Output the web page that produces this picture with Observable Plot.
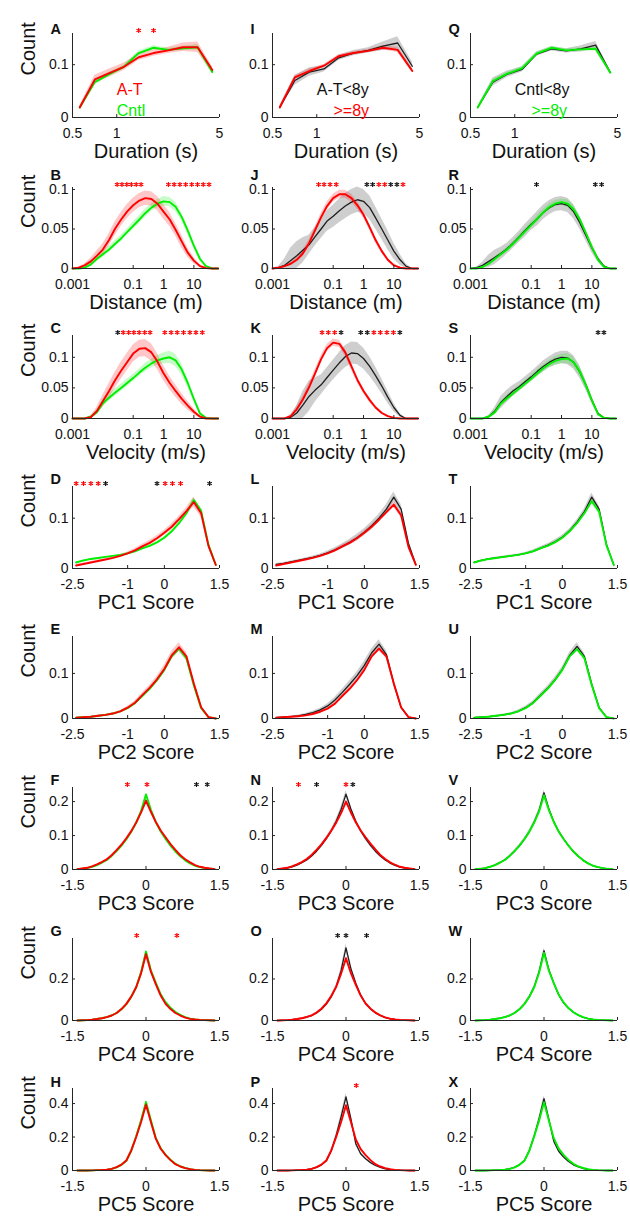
<!DOCTYPE html>
<html><head><meta charset="utf-8">
<script src="https://cdn.jsdelivr.net/npm/d3@7"></script>
<script src="https://cdn.jsdelivr.net/npm/@observablehq/plot@0.6"></script>
<style>
body{margin:0;background:#fff;}
#fig{position:relative;width:630px;height:1220px;overflow:hidden;background:#fff;}
#fig svg{position:absolute;}
</style></head><body><div id="fig"></div><script>
// ---------- x grids (bin centres) ----------
const durX = [0.56, 0.71, 0.89, 1.12, 1.41, 1.78, 2.24, 2.82, 3.55, 4.47];
const logX = [0.001, 0.0016, 0.0025, 0.004, 0.0063, 0.01, 0.016, 0.025, 0.04, 0.063, 0.1, 0.16, 0.25, 0.4, 0.63, 1, 1.6, 2.5, 4, 6.3, 10, 16, 25, 40, 63];
const pcWideX = [-2.4, -2.2, -2.0, -1.8, -1.6, -1.4, -1.2, -1.0, -0.8, -0.6, -0.4, -0.2, 0, 0.2, 0.4, 0.6, 0.8, 1.0, 1.2, 1.4];
const pcX = [-1.4,-1.3,-1.2,-1.1,-1.0,-0.9,-0.8,-0.7,-0.6,-0.5,-0.4,-0.3,-0.2,-0.1,0,0.1,0.2,0.3,0.4,0.5,0.6,0.7,0.8,0.9,1.0,1.1,1.2,1.3,1.4];

// ---------- tick labels ----------
const durTicks = [0.5, 1, 5];
const logTicks = [0.001, 0.1, 1, 10];
const pcWideTicks = [-2.5, -1, 0, 1.5];
const pcTicks = [-1.5, 0, 1.5];
const xLabels = ["Duration (s)", "Distance (m)", "Velocity (m/s)", "PC1 Score", "PC2 Score", "PC3 Score", "PC4 Score", "PC5 Score"];
const letters = [["A","B","C","D","E","F","G","H"],["I","J","K","L","M","N","O","P"],["Q","R","S","T","U","V","W","X"]];

// ---------- Row 1: Duration ----------
const A_red = [0.019, 0.072, 0.084, 0.096, 0.114, 0.122, 0.127, 0.133, 0.133, 0.090];
const A_red_s = [0.003, 0.008, 0.008, 0.007, 0.006, 0.006, 0.006, 0.008, 0.010, 0.006];
const A_green = [0.019, 0.067, 0.082, 0.096, 0.122, 0.132, 0.128, 0.131, 0.133, 0.086];
const A_green_s = [0.002, 0.004, 0.004, 0.003, 0.004, 0.004, 0.003, 0.004, 0.005, 0.004];
const I_black = [0.019, 0.070, 0.086, 0.092, 0.113, 0.122, 0.127, 0.135, 0.141, 0.097];
const I_black_s = [0.003, 0.009, 0.008, 0.006, 0.005, 0.005, 0.005, 0.008, 0.012, 0.008];
const I_red = [0.019, 0.076, 0.088, 0.098, 0.116, 0.122, 0.126, 0.132, 0.128, 0.088];
const I_red_s = [0.002, 0.004, 0.004, 0.003, 0.003, 0.003, 0.003, 0.004, 0.005, 0.004];
const Q_black = [0.019, 0.067, 0.082, 0.091, 0.120, 0.130, 0.126, 0.130, 0.137, 0.085];
const Q_black_s = [0.002, 0.008, 0.006, 0.005, 0.004, 0.004, 0.004, 0.006, 0.007, 0.004];
const Q_green = [0.019, 0.069, 0.083, 0.093, 0.121, 0.132, 0.127, 0.129, 0.130, 0.085];
const Q_green_s = [0.002, 0.003, 0.003, 0.003, 0.003, 0.003, 0.003, 0.003, 0.004, 0.003];

// ---------- Row 2: Distance ----------
const B_red = [0, 0.001, 0.004, 0.009, 0.016, 0.024, 0.036, 0.050, 0.062, 0.072, 0.080, 0.086, 0.089, 0.088, 0.082, 0.072, 0.062, 0.049, 0.034, 0.020, 0.010, 0.003, 0.0005, 0, 0];
const B_red_s = [0, 0.001, 0.002, 0.004, 0.006, 0.007, 0.008, 0.009, 0.009, 0.009, 0.009, 0.009, 0.009, 0.009, 0.009, 0.009, 0.009, 0.008, 0.008, 0.006, 0.004, 0.002, 0.001, 0, 0];
const B_green = [0, 0, 0.001, 0.005, 0.012, 0.018, 0.024, 0.031, 0.038, 0.046, 0.054, 0.062, 0.070, 0.077, 0.082, 0.085, 0.084, 0.078, 0.065, 0.048, 0.029, 0.012, 0.003, 0, 0];
const B_green_s = [0, 0, 0.001, 0.002, 0.003, 0.004, 0.004, 0.004, 0.004, 0.004, 0.005, 0.005, 0.005, 0.005, 0.005, 0.006, 0.006, 0.006, 0.005, 0.005, 0.004, 0.003, 0.001, 0, 0];
const J_black = [0, 0.001, 0.004, 0.010, 0.016, 0.023, 0.030, 0.040, 0.050, 0.060, 0.066, 0.073, 0.079, 0.084, 0.087, 0.085, 0.077, 0.064, 0.050, 0.036, 0.022, 0.011, 0.003, 0, 0];
const J_black_s = [0, 0.002, 0.008, 0.016, 0.018, 0.016, 0.012, 0.012, 0.012, 0.013, 0.014, 0.015, 0.016, 0.016, 0.016, 0.015, 0.015, 0.014, 0.013, 0.012, 0.010, 0.007, 0.003, 0, 0];
const J_red = [0, 0.001, 0.003, 0.006, 0.011, 0.019, 0.032, 0.048, 0.065, 0.079, 0.089, 0.094, 0.094, 0.089, 0.080, 0.068, 0.052, 0.036, 0.022, 0.011, 0.004, 0.001, 0, 0, 0];
const J_red_s = [0, 0.001, 0.001, 0.002, 0.003, 0.004, 0.004, 0.004, 0.005, 0.005, 0.005, 0.005, 0.005, 0.005, 0.005, 0.004, 0.004, 0.004, 0.003, 0.002, 0.002, 0.001, 0, 0, 0];
const R_black = [0, 0.001, 0.004, 0.009, 0.014, 0.019, 0.025, 0.032, 0.040, 0.048, 0.056, 0.063, 0.071, 0.077, 0.081, 0.082, 0.080, 0.072, 0.058, 0.042, 0.026, 0.012, 0.003, 0, 0];
const R_black_s = [0, 0.001, 0.004, 0.008, 0.009, 0.008, 0.007, 0.007, 0.007, 0.008, 0.008, 0.009, 0.009, 0.009, 0.009, 0.009, 0.009, 0.009, 0.008, 0.007, 0.006, 0.004, 0.002, 0, 0];
const R_green = [0, 0, 0.002, 0.006, 0.012, 0.018, 0.024, 0.031, 0.039, 0.047, 0.055, 0.063, 0.071, 0.078, 0.082, 0.084, 0.082, 0.075, 0.062, 0.045, 0.027, 0.011, 0.002, 0, 0];
const R_green_s = [0, 0, 0.001, 0.002, 0.003, 0.003, 0.003, 0.003, 0.004, 0.004, 0.004, 0.004, 0.004, 0.004, 0.004, 0.004, 0.005, 0.005, 0.005, 0.004, 0.003, 0.002, 0.001, 0, 0];

// ---------- Row 3: Velocity ----------
const C_red = [0, 0, 0, 0.002, 0.012, 0.028, 0.045, 0.062, 0.078, 0.092, 0.106, 0.114, 0.115, 0.108, 0.093, 0.074, 0.058, 0.045, 0.032, 0.021, 0.011, 0.003, 0, 0, 0];
const C_red_s = [0, 0, 0, 0.002, 0.006, 0.010, 0.012, 0.013, 0.014, 0.014, 0.014, 0.014, 0.014, 0.014, 0.013, 0.012, 0.011, 0.010, 0.009, 0.007, 0.005, 0.002, 0, 0, 0];
const C_green = [0, 0, 0, 0.003, 0.010, 0.025, 0.034, 0.042, 0.050, 0.058, 0.066, 0.075, 0.083, 0.090, 0.095, 0.098, 0.100, 0.095, 0.080, 0.058, 0.032, 0.008, 0.001, 0, 0];
const C_green_s = [0, 0, 0, 0.002, 0.004, 0.006, 0.006, 0.006, 0.006, 0.006, 0.006, 0.006, 0.007, 0.007, 0.008, 0.009, 0.010, 0.010, 0.009, 0.007, 0.005, 0.003, 0.001, 0, 0];
const K_black = [0, 0, 0, 0.002, 0.009, 0.022, 0.036, 0.046, 0.055, 0.067, 0.079, 0.091, 0.101, 0.107, 0.106, 0.098, 0.085, 0.070, 0.053, 0.035, 0.018, 0.005, 0, 0, 0];
const K_black_s = [0, 0, 0, 0.003, 0.012, 0.022, 0.025, 0.020, 0.016, 0.016, 0.016, 0.017, 0.018, 0.018, 0.018, 0.017, 0.016, 0.014, 0.012, 0.010, 0.007, 0.003, 0, 0, 0];
const K_red = [0, 0, 0, 0.004, 0.015, 0.031, 0.051, 0.073, 0.097, 0.115, 0.124, 0.122, 0.108, 0.085, 0.063, 0.045, 0.030, 0.018, 0.009, 0.004, 0.001, 0, 0, 0, 0];
const K_red_s = [0, 0, 0, 0.002, 0.004, 0.005, 0.006, 0.006, 0.006, 0.006, 0.006, 0.006, 0.006, 0.006, 0.005, 0.004, 0.004, 0.003, 0.002, 0.001, 0.001, 0, 0, 0, 0];
const S_black = [0, 0, 0, 0.003, 0.012, 0.026, 0.036, 0.045, 0.052, 0.060, 0.068, 0.077, 0.085, 0.092, 0.097, 0.100, 0.099, 0.092, 0.076, 0.055, 0.030, 0.008, 0.001, 0, 0];
const S_black_s = [0, 0, 0, 0.002, 0.006, 0.010, 0.010, 0.009, 0.008, 0.008, 0.008, 0.008, 0.009, 0.009, 0.010, 0.010, 0.011, 0.011, 0.010, 0.008, 0.006, 0.003, 0.001, 0, 0];
const S_green = [0, 0, 0, 0.003, 0.010, 0.024, 0.033, 0.041, 0.049, 0.057, 0.065, 0.074, 0.082, 0.089, 0.094, 0.097, 0.098, 0.092, 0.077, 0.055, 0.030, 0.007, 0.001, 0, 0];
const S_green_s = [0, 0, 0, 0.002, 0.004, 0.005, 0.005, 0.005, 0.005, 0.005, 0.005, 0.006, 0.006, 0.006, 0.007, 0.008, 0.008, 0.008, 0.008, 0.006, 0.004, 0.002, 0.001, 0, 0];

// ---------- Row 4: PC1 ----------
const D_red = [0.006, 0.009, 0.012, 0.015, 0.018, 0.021, 0.025, 0.030, 0.036, 0.044, 0.051, 0.060, 0.071, 0.083, 0.098, 0.114, 0.132, 0.110, 0.045, 0.007];
const D_red_s = [0.002, 0.002, 0.002, 0.002, 0.002, 0.003, 0.003, 0.003, 0.004, 0.004, 0.005, 0.005, 0.005, 0.006, 0.006, 0.007, 0.010, 0.008, 0.004, 0.002];
const D_green = [0.012, 0.016, 0.019, 0.021, 0.023, 0.025, 0.027, 0.030, 0.034, 0.040, 0.045, 0.052, 0.061, 0.074, 0.090, 0.110, 0.136, 0.115, 0.047, 0.007];
const D_green_s = [0.001, 0.001, 0.001, 0.001, 0.001, 0.001, 0.001, 0.002, 0.002, 0.002, 0.002, 0.002, 0.003, 0.003, 0.003, 0.004, 0.005, 0.004, 0.003, 0.001];
const L_black = [0.008, 0.010, 0.013, 0.016, 0.019, 0.022, 0.026, 0.031, 0.037, 0.044, 0.052, 0.061, 0.072, 0.085, 0.100, 0.118, 0.142, 0.118, 0.050, 0.008];
const L_black_s = [0.002, 0.002, 0.002, 0.002, 0.002, 0.003, 0.003, 0.004, 0.004, 0.005, 0.006, 0.007, 0.007, 0.008, 0.008, 0.009, 0.010, 0.009, 0.006, 0.002];
const L_red = [0.006, 0.009, 0.012, 0.015, 0.018, 0.021, 0.025, 0.030, 0.036, 0.044, 0.051, 0.060, 0.071, 0.083, 0.097, 0.112, 0.127, 0.106, 0.043, 0.007];
const L_red_s = [0.001, 0.001, 0.001, 0.001, 0.002, 0.002, 0.002, 0.002, 0.003, 0.003, 0.003, 0.003, 0.004, 0.004, 0.004, 0.005, 0.006, 0.005, 0.003, 0.001];
const T_black = [0.012, 0.016, 0.019, 0.021, 0.023, 0.025, 0.027, 0.030, 0.034, 0.040, 0.046, 0.053, 0.062, 0.075, 0.092, 0.113, 0.142, 0.118, 0.048, 0.007];
const T_black_s = [0.001, 0.001, 0.001, 0.002, 0.002, 0.002, 0.002, 0.002, 0.003, 0.003, 0.003, 0.004, 0.004, 0.004, 0.005, 0.006, 0.008, 0.006, 0.004, 0.001];
const T_green = [0.012, 0.016, 0.019, 0.021, 0.023, 0.025, 0.027, 0.030, 0.034, 0.040, 0.045, 0.052, 0.061, 0.074, 0.090, 0.110, 0.134, 0.113, 0.046, 0.007];
const T_green_s = [0.001, 0.001, 0.001, 0.001, 0.001, 0.001, 0.001, 0.002, 0.002, 0.002, 0.002, 0.003, 0.003, 0.003, 0.004, 0.004, 0.006, 0.005, 0.003, 0.001];

// ---------- Row 5: PC2 ----------
const E_red = [0.002, 0.003, 0.004, 0.006, 0.008, 0.011, 0.016, 0.024, 0.035, 0.052, 0.068, 0.087, 0.110, 0.140, 0.158, 0.138, 0.078, 0.025, 0.003, 0];
const E_red_s = [0.001, 0.001, 0.001, 0.001, 0.001, 0.002, 0.002, 0.003, 0.004, 0.005, 0.006, 0.007, 0.008, 0.009, 0.010, 0.009, 0.006, 0.003, 0.001, 0];
const E_green = [0.002, 0.003, 0.004, 0.006, 0.008, 0.011, 0.016, 0.023, 0.034, 0.050, 0.066, 0.085, 0.108, 0.138, 0.155, 0.134, 0.074, 0.023, 0.003, 0];
const E_green_s = [0.0005, 0.001, 0.001, 0.001, 0.001, 0.001, 0.001, 0.002, 0.002, 0.003, 0.003, 0.004, 0.004, 0.005, 0.005, 0.005, 0.004, 0.002, 0.001, 0];
const M_black = [0.002, 0.003, 0.004, 0.006, 0.009, 0.013, 0.019, 0.028, 0.041, 0.058, 0.076, 0.095, 0.118, 0.146, 0.165, 0.142, 0.078, 0.024, 0.003, 0];
const M_black_s = [0.001, 0.001, 0.001, 0.002, 0.002, 0.003, 0.004, 0.005, 0.006, 0.007, 0.008, 0.008, 0.009, 0.009, 0.010, 0.009, 0.006, 0.003, 0.001, 0];
const M_red = [0.002, 0.003, 0.004, 0.005, 0.007, 0.010, 0.015, 0.022, 0.033, 0.050, 0.066, 0.085, 0.108, 0.138, 0.155, 0.138, 0.078, 0.025, 0.003, 0];
const M_red_s = [0.0005, 0.001, 0.001, 0.001, 0.001, 0.001, 0.002, 0.002, 0.003, 0.003, 0.004, 0.004, 0.005, 0.005, 0.006, 0.005, 0.004, 0.002, 0.001, 0];
const U_black = [0.002, 0.003, 0.004, 0.006, 0.008, 0.011, 0.016, 0.024, 0.035, 0.051, 0.067, 0.086, 0.109, 0.140, 0.160, 0.138, 0.076, 0.024, 0.003, 0];
const U_black_s = [0.001, 0.001, 0.001, 0.001, 0.002, 0.002, 0.003, 0.003, 0.004, 0.005, 0.005, 0.006, 0.006, 0.007, 0.008, 0.007, 0.005, 0.003, 0.001, 0];
const U_green = [0.002, 0.003, 0.004, 0.006, 0.008, 0.011, 0.016, 0.023, 0.034, 0.050, 0.066, 0.085, 0.108, 0.138, 0.154, 0.134, 0.074, 0.023, 0.003, 0];
const U_green_s = [0.0005, 0.001, 0.001, 0.001, 0.001, 0.001, 0.001, 0.002, 0.002, 0.002, 0.003, 0.003, 0.004, 0.004, 0.005, 0.004, 0.003, 0.002, 0.001, 0];

// ---------- Row 6: PC3 ----------
const F_red = [0.001, 0.003, 0.005, 0.009, 0.015, 0.022, 0.030, 0.042, 0.057, 0.073, 0.092, 0.113, 0.138, 0.168, 0.203, 0.170, 0.140, 0.115, 0.095, 0.075, 0.058, 0.042, 0.030, 0.021, 0.013, 0.008, 0.005, 0.003, 0.001];
const F_red_s = [0, 0.001, 0.001, 0.001, 0.001, 0.002, 0.002, 0.002, 0.003, 0.003, 0.003, 0.004, 0.004, 0.005, 0.007, 0.005, 0.004, 0.004, 0.003, 0.003, 0.003, 0.002, 0.002, 0.002, 0.001, 0.001, 0.001, 0.001, 0];
const F_green = [0.001, 0.002, 0.004, 0.008, 0.013, 0.020, 0.028, 0.040, 0.054, 0.070, 0.089, 0.111, 0.138, 0.172, 0.221, 0.176, 0.140, 0.112, 0.090, 0.070, 0.053, 0.039, 0.027, 0.018, 0.011, 0.007, 0.004, 0.002, 0.001];
const F_green_s = [0, 0.001, 0.001, 0.001, 0.001, 0.001, 0.001, 0.002, 0.002, 0.002, 0.002, 0.003, 0.003, 0.004, 0.005, 0.004, 0.003, 0.003, 0.002, 0.002, 0.002, 0.002, 0.001, 0.001, 0.001, 0.001, 0.001, 0, 0];
const N_black = [0.001, 0.002, 0.004, 0.008, 0.013, 0.020, 0.028, 0.040, 0.054, 0.071, 0.091, 0.114, 0.142, 0.177, 0.222, 0.178, 0.142, 0.114, 0.091, 0.071, 0.054, 0.040, 0.028, 0.019, 0.012, 0.007, 0.004, 0.002, 0.001];
const N_black_s = [0, 0.001, 0.001, 0.002, 0.002, 0.003, 0.003, 0.004, 0.004, 0.005, 0.005, 0.006, 0.007, 0.008, 0.010, 0.008, 0.007, 0.006, 0.005, 0.005, 0.004, 0.004, 0.003, 0.003, 0.002, 0.002, 0.001, 0.001, 0];
const N_red = [0.001, 0.003, 0.005, 0.009, 0.015, 0.022, 0.031, 0.043, 0.058, 0.074, 0.093, 0.114, 0.138, 0.166, 0.200, 0.168, 0.139, 0.115, 0.095, 0.076, 0.059, 0.043, 0.031, 0.021, 0.014, 0.008, 0.005, 0.003, 0.001];
const N_red_s = [0, 0.001, 0.001, 0.001, 0.001, 0.001, 0.002, 0.002, 0.002, 0.002, 0.003, 0.003, 0.003, 0.004, 0.005, 0.004, 0.003, 0.003, 0.003, 0.002, 0.002, 0.002, 0.002, 0.001, 0.001, 0.001, 0.001, 0, 0];
const V_black = [0.001, 0.002, 0.004, 0.008, 0.013, 0.020, 0.028, 0.040, 0.054, 0.070, 0.089, 0.111, 0.139, 0.174, 0.226, 0.178, 0.141, 0.112, 0.090, 0.070, 0.053, 0.039, 0.027, 0.018, 0.011, 0.007, 0.004, 0.002, 0.001];
const V_black_s = [0, 0.001, 0.001, 0.001, 0.002, 0.002, 0.003, 0.003, 0.004, 0.004, 0.005, 0.005, 0.006, 0.006, 0.008, 0.006, 0.005, 0.005, 0.004, 0.004, 0.003, 0.003, 0.003, 0.002, 0.002, 0.001, 0.001, 0.001, 0];
const V_green = [0.001, 0.002, 0.004, 0.008, 0.013, 0.020, 0.028, 0.040, 0.054, 0.070, 0.089, 0.111, 0.138, 0.171, 0.219, 0.175, 0.140, 0.112, 0.090, 0.070, 0.053, 0.039, 0.027, 0.018, 0.011, 0.007, 0.004, 0.002, 0.001];
const V_green_s = [0, 0.001, 0.001, 0.001, 0.001, 0.001, 0.001, 0.002, 0.002, 0.002, 0.002, 0.003, 0.003, 0.003, 0.004, 0.003, 0.003, 0.003, 0.002, 0.002, 0.002, 0.001, 0.001, 0.001, 0.001, 0.001, 0, 0, 0];

// ---------- Row 7: PC4 ----------
const G_red = [0, 0.001, 0.002, 0.004, 0.007, 0.011, 0.016, 0.024, 0.036, 0.055, 0.080, 0.115, 0.160, 0.228, 0.320, 0.235, 0.175, 0.120, 0.080, 0.055, 0.036, 0.024, 0.014, 0.008, 0.005, 0.003, 0.002, 0.001, 0];
const G_red_s = [0, 0, 0.001, 0.001, 0.001, 0.001, 0.002, 0.002, 0.003, 0.004, 0.005, 0.006, 0.008, 0.010, 0.014, 0.010, 0.008, 0.006, 0.005, 0.004, 0.003, 0.002, 0.002, 0.001, 0.001, 0.001, 0, 0, 0];
const G_green = [0, 0.001, 0.002, 0.004, 0.007, 0.011, 0.016, 0.024, 0.036, 0.054, 0.079, 0.114, 0.160, 0.232, 0.332, 0.242, 0.182, 0.126, 0.088, 0.061, 0.041, 0.027, 0.016, 0.009, 0.005, 0.003, 0.002, 0.001, 0];
const G_green_s = [0, 0, 0, 0.001, 0.001, 0.001, 0.001, 0.002, 0.002, 0.002, 0.003, 0.004, 0.005, 0.006, 0.008, 0.006, 0.005, 0.004, 0.003, 0.003, 0.002, 0.002, 0.001, 0.001, 0.001, 0, 0, 0, 0];
const O_black = [0, 0.001, 0.002, 0.004, 0.007, 0.011, 0.016, 0.024, 0.036, 0.054, 0.079, 0.114, 0.163, 0.240, 0.350, 0.250, 0.180, 0.122, 0.082, 0.056, 0.037, 0.024, 0.014, 0.008, 0.005, 0.003, 0.002, 0.001, 0];
const O_black_s = [0, 0, 0.001, 0.001, 0.001, 0.002, 0.002, 0.003, 0.004, 0.005, 0.006, 0.008, 0.010, 0.013, 0.018, 0.013, 0.010, 0.008, 0.006, 0.005, 0.004, 0.003, 0.002, 0.001, 0.001, 0.001, 0, 0, 0];
const O_red = [0, 0.001, 0.002, 0.004, 0.007, 0.011, 0.017, 0.025, 0.038, 0.057, 0.083, 0.118, 0.162, 0.225, 0.300, 0.228, 0.172, 0.120, 0.082, 0.057, 0.038, 0.025, 0.015, 0.009, 0.005, 0.003, 0.002, 0.001, 0];
const O_red_s = [0, 0, 0, 0.001, 0.001, 0.001, 0.001, 0.002, 0.002, 0.003, 0.003, 0.004, 0.005, 0.006, 0.008, 0.006, 0.005, 0.004, 0.003, 0.003, 0.002, 0.002, 0.001, 0.001, 0.001, 0, 0, 0, 0];
const W_black = [0, 0.001, 0.002, 0.004, 0.007, 0.011, 0.016, 0.024, 0.036, 0.054, 0.079, 0.114, 0.161, 0.234, 0.336, 0.244, 0.180, 0.124, 0.085, 0.059, 0.040, 0.026, 0.015, 0.009, 0.005, 0.003, 0.002, 0.001, 0];
const W_black_s = [0, 0, 0, 0.001, 0.001, 0.001, 0.002, 0.002, 0.003, 0.004, 0.005, 0.006, 0.008, 0.010, 0.013, 0.010, 0.008, 0.006, 0.005, 0.004, 0.003, 0.002, 0.002, 0.001, 0.001, 0, 0, 0, 0];
const W_green = [0, 0.001, 0.002, 0.004, 0.007, 0.011, 0.016, 0.024, 0.036, 0.054, 0.079, 0.114, 0.160, 0.230, 0.326, 0.240, 0.180, 0.125, 0.087, 0.060, 0.040, 0.026, 0.016, 0.009, 0.005, 0.003, 0.002, 0.001, 0];
const W_green_s = [0, 0, 0, 0, 0.001, 0.001, 0.001, 0.001, 0.002, 0.002, 0.003, 0.003, 0.004, 0.005, 0.006, 0.005, 0.004, 0.003, 0.003, 0.002, 0.002, 0.001, 0.001, 0.001, 0, 0, 0, 0, 0];

// ---------- Row 8: PC5 ----------
const H_red = [0, 0, 0, 0.001, 0.002, 0.003, 0.005, 0.010, 0.020, 0.035, 0.060, 0.120, 0.200, 0.290, 0.395, 0.290, 0.190, 0.130, 0.092, 0.062, 0.038, 0.024, 0.014, 0.008, 0.004, 0.002, 0.001, 0, 0];
const H_red_s = [0, 0, 0, 0, 0.001, 0.001, 0.001, 0.002, 0.003, 0.004, 0.006, 0.008, 0.010, 0.013, 0.016, 0.013, 0.010, 0.008, 0.006, 0.004, 0.003, 0.002, 0.001, 0.001, 0, 0, 0, 0, 0];
const H_green = [0, 0, 0, 0.001, 0.002, 0.003, 0.005, 0.010, 0.019, 0.034, 0.058, 0.118, 0.205, 0.300, 0.410, 0.300, 0.195, 0.132, 0.094, 0.064, 0.040, 0.025, 0.015, 0.008, 0.004, 0.002, 0.001, 0, 0];
const H_green_s = [0, 0, 0, 0, 0, 0.001, 0.001, 0.001, 0.002, 0.002, 0.003, 0.004, 0.006, 0.007, 0.009, 0.007, 0.005, 0.004, 0.003, 0.002, 0.002, 0.001, 0.001, 0, 0, 0, 0, 0, 0];
const P_black = [0, 0, 0, 0.001, 0.002, 0.003, 0.005, 0.010, 0.019, 0.034, 0.058, 0.118, 0.210, 0.320, 0.440, 0.310, 0.160, 0.100, 0.070, 0.047, 0.030, 0.018, 0.010, 0.006, 0.003, 0.002, 0.001, 0, 0];
const P_black_s = [0, 0, 0, 0, 0.001, 0.001, 0.001, 0.002, 0.003, 0.004, 0.006, 0.009, 0.013, 0.017, 0.022, 0.016, 0.011, 0.008, 0.006, 0.004, 0.003, 0.002, 0.001, 0.001, 0, 0, 0, 0, 0];
const P_red = [0, 0, 0, 0.001, 0.002, 0.003, 0.005, 0.010, 0.020, 0.035, 0.060, 0.120, 0.200, 0.290, 0.390, 0.290, 0.185, 0.128, 0.092, 0.062, 0.038, 0.024, 0.014, 0.008, 0.004, 0.002, 0.001, 0, 0];
const P_red_s = [0, 0, 0, 0, 0, 0.001, 0.001, 0.001, 0.002, 0.002, 0.003, 0.004, 0.006, 0.007, 0.009, 0.007, 0.006, 0.004, 0.003, 0.002, 0.002, 0.001, 0.001, 0, 0, 0, 0, 0, 0];
const X_black = [0, 0, 0, 0.001, 0.002, 0.003, 0.005, 0.010, 0.019, 0.034, 0.058, 0.118, 0.205, 0.310, 0.430, 0.305, 0.175, 0.115, 0.080, 0.054, 0.034, 0.021, 0.012, 0.007, 0.004, 0.002, 0.001, 0, 0];
const X_black_s = [0, 0, 0, 0, 0.001, 0.001, 0.001, 0.002, 0.002, 0.003, 0.005, 0.007, 0.010, 0.013, 0.016, 0.012, 0.009, 0.007, 0.005, 0.003, 0.002, 0.002, 0.001, 0.001, 0, 0, 0, 0, 0];
const X_green = [0, 0, 0, 0.001, 0.002, 0.003, 0.005, 0.010, 0.019, 0.034, 0.058, 0.118, 0.204, 0.298, 0.408, 0.298, 0.193, 0.131, 0.093, 0.063, 0.040, 0.025, 0.015, 0.008, 0.004, 0.002, 0.001, 0, 0];
const X_green_s = [0, 0, 0, 0, 0, 0.001, 0.001, 0.001, 0.001, 0.002, 0.002, 0.003, 0.004, 0.005, 0.006, 0.005, 0.004, 0.003, 0.002, 0.002, 0.001, 0.001, 0.001, 0, 0, 0, 0, 0, 0];

// ---------- significance stars (x positions) ----------
const stars = {
  A: {r: [1.41, 1.78], k: []},
  B: {r: [0.0295, 0.0427, 0.0617, 0.087, 0.126, 0.182, 1.45, 2.24, 3.47, 5.37, 8.5, 13.2, 20.4, 31.6], k: []},
  C: {r: [0.047, 0.071, 0.105, 0.158, 0.24, 0.36, 1.1, 1.78, 2.82, 4.57, 7.4, 11.7, 19], k: [0.031]},
  D: {r: [-2.4, -2.2, -2.0, -1.8, 0.02, 0.22, 0.44], k: [-1.6, -0.2, 1.23]},
  F: {r: [-0.38, 0.02], k: [1.03, 1.25]},
  G: {r: [-0.19, 0.63], k: []},
  J: {r: [0.033, 0.05, 0.079, 0.126, 3.2, 5.0, 20], k: [1.29, 2.0, 7.9, 12.6]},
  K: {r: [0.043, 0.069, 0.112, 2.19, 3.59, 5.9, 9.7], k: [0.182, 0.81, 1.33, 15.8]},
  N: {r: [-0.97, 0.0], k: [-0.6, 0.14]},
  O: {r: [], k: [-0.17, 0.0, 0.42]},
  P: {r: [0.21], k: []},
  R: {r: [], k: [0.15, 13, 21]},
  S: {r: [], k: [16, 25]}
};

// ---------- legends ----------
const legends = {
  A: [{x: 1.0, y: 0.052, t: "A-T", c: "red"}, {x: 1.0, y: 0.012, t: "Cntl", c: "green"}],
  I: [{x: 1.0, y: 0.052, t: "A-T<8y", c: "black"}, {x: 1.3, y: 0.012, t: ">=8y", c: "red"}],
  Q: [{x: 1.0, y: 0.052, t: "Cntl<8y", c: "black"}, {x: 1.3, y: 0.012, t: ">=8y", c: "green"}]
};

// ---------- layout / styles ----------
const COL = {red: "#ff0000", green: "#00ee00", black: "#1e1e1e"};
const AX = "#262626";
const FONT = "'Liberation Sans', Arial, Helvetica, sans-serif";
const colX0 = [72, 272, 470], PW = 147;
const rowTop = [33, 187, 335, 486, 636, 787, 938, 1088];
const rowBot = [117, 268, 418, 568, 718, 869, 1020, 1170];
const letterDy = [-10, -17.5, -13, -13, -13, -13, -13, -11.5];
const MT = 30, MB = 60, ML = 72, MR = 14;

const rows = [
  {xs: durX, type: "log", xd: [0.5, 5], xt: durTicks, yd: [0, 0.159], yt: [0, 0.1]},
  {xs: logX, type: "log", xd: [0.001, 70], xt: logTicks, yd: [0, 0.1025], yt: [0, 0.05, 0.1]},
  {xs: logX, type: "log", xd: [0.001, 70], xt: logTicks, yd: [0, 0.1356], yt: [0, 0.05, 0.1]},
  {xs: pcWideX, type: "linear", xd: [-2.5, 1.5], xt: pcWideTicks, yd: [0, 0.163], yt: [0, 0.1]},
  {xs: pcWideX, type: "linear", xd: [-2.5, 1.5], xt: pcWideTicks, yd: [0, 0.182], yt: [0, 0.1]},
  {xs: pcX, type: "linear", xd: [-1.5, 1.5], xt: pcTicks, yd: [0, 0.2415], yt: [0, 0.1, 0.2]},
  {xs: pcX, type: "linear", xd: [-1.5, 1.5], xt: pcTicks, yd: [0, 0.395], yt: [0, 0.2]},
  {xs: pcX, type: "linear", xd: [-1.5, 1.5], xt: pcTicks, yd: [0, 0.49], yt: [0, 0.2, 0.4]}
];

const ser = (m, s, c) => ({m, s, c});
const panelSeries = [
  // column 1: A-T (red) vs Cntl (green)
  [[ser(A_green, A_green_s, "green"), ser(A_red, A_red_s, "red")],
   [ser(B_green, B_green_s, "green"), ser(B_red, B_red_s, "red")],
   [ser(C_green, C_green_s, "green"), ser(C_red, C_red_s, "red")],
   [ser(D_green, D_green_s, "green"), ser(D_red, D_red_s, "red")],
   [ser(E_green, E_green_s, "green"), ser(E_red, E_red_s, "red")],
   [ser(F_green, F_green_s, "green"), ser(F_red, F_red_s, "red")],
   [ser(G_green, G_green_s, "green"), ser(G_red, G_red_s, "red")],
   [ser(H_green, H_green_s, "green"), ser(H_red, H_red_s, "red")]],
  // column 2: A-T<8y (black) vs >=8y (red)
  [[ser(I_black, I_black_s, "black"), ser(I_red, I_red_s, "red")],
   [ser(J_black, J_black_s, "black"), ser(J_red, J_red_s, "red")],
   [ser(K_black, K_black_s, "black"), ser(K_red, K_red_s, "red")],
   [ser(L_black, L_black_s, "black"), ser(L_red, L_red_s, "red")],
   [ser(M_black, M_black_s, "black"), ser(M_red, M_red_s, "red")],
   [ser(N_black, N_black_s, "black"), ser(N_red, N_red_s, "red")],
   [ser(O_black, O_black_s, "black"), ser(O_red, O_red_s, "red")],
   [ser(P_black, P_black_s, "black"), ser(P_red, P_red_s, "red")]],
  // column 3: Cntl<8y (black) vs >=8y (green)
  [[ser(Q_black, Q_black_s, "black"), ser(Q_green, Q_green_s, "green")],
   [ser(R_black, R_black_s, "black"), ser(R_green, R_green_s, "green")],
   [ser(S_black, S_black_s, "black"), ser(S_green, S_green_s, "green")],
   [ser(T_black, T_black_s, "black"), ser(T_green, T_green_s, "green")],
   [ser(U_black, U_black_s, "black"), ser(U_green, U_green_s, "green")],
   [ser(V_black, V_black_s, "black"), ser(V_green, V_green_s, "green")],
   [ser(W_black, W_black_s, "black"), ser(W_green, W_green_s, "green")],
   [ser(X_black, X_black_s, "black"), ser(X_green, X_green_s, "green")]]
];

const fig = document.getElementById("fig");

for (let col = 0; col < 3; col++) {
  for (let row = 0; row < 8; row++) {
    const r = rows[row];
    const h = rowBot[row] - rowTop[row];
    const id = letters[col][row];
    const series = panelSeries[col][row];
    const marks = [];
    for (const s of series) {
      const d = r.xs.map((x, i) => ({x, lo: Math.max(0, s.m[i] - s.s[i]), hi: s.m[i] + s.s[i]}));
      marks.push(Plot.areaY(d, {x: "x", y1: "lo", y2: "hi", fill: COL[s.c], fillOpacity: 0.22, curve: "linear"}));
    }
    for (const s of series) {
      const d = r.xs.map((x, i) => ({x, y: s.m[i]}));
      marks.push(Plot.lineY(d, {x: "x", y: "y", stroke: COL[s.c], strokeWidth: s.c === "black" ? 1.3 : 1.9}));
    }
    // spines
    marks.push(Plot.ruleY([r.yd[0]], {stroke: AX, strokeWidth: 1}));
    marks.push(Plot.ruleX([r.xd[0]], {stroke: AX, strokeWidth: 1}));
    // inward ticks
    marks.push(Plot.axisX({ticks: r.xt, tickSize: 3, dy: -3, tickFormat: () => "", stroke: AX, label: null}));
    marks.push(Plot.axisY({ticks: r.yt, tickSize: 3, dx: 3, tickFormat: () => "", stroke: AX, label: null}));
    // tick labels
    marks.push(Plot.axisX({ticks: r.xt, tickSize: 0, tickPadding: 11, tickFormat: d => String(d), fontSize: 14, fill: "#111", label: null}));
    marks.push(Plot.axisY({ticks: r.yt, tickSize: 0, tickPadding: 4, tickFormat: d => String(d), fontSize: 14, fill: "#111", label: null}));
    // x axis title
    marks.push(Plot.text([xLabels[row]], {frameAnchor: "bottom", dy: 40.5, text: d => d, fontSize: 20, fill: "#111"}));
    // y axis title
    if (col === 0) marks.push(Plot.text(["Count"], {frameAnchor: "left", dx: -43.5, rotate: -90, text: d => d, fontSize: 20, fill: "#111"}));
    // panel letter
    marks.push(Plot.text([id], {frameAnchor: "top-left", dx: -22, dy: letterDy[row], text: d => d, textAnchor: "start", fontSize: 14.5, fontWeight: "bold", fill: "#111"}));
    // stars
    const st = stars[id];
    if (st) {
      if (st.r.length) marks.push(Plot.dot(st.r, {x: d => d, frameAnchor: "top", dy: -3, symbol: "asterisk", r: 2.4, stroke: COL.red, strokeWidth: 1.1}));
      if (st.k.length) marks.push(Plot.dot(st.k, {x: d => d, frameAnchor: "top", dy: -3, symbol: "asterisk", r: 2.4, stroke: "#111", strokeWidth: 1.1}));
    }
    // legends
    const lg = legends[id];
    if (lg) {
      for (const L of lg) marks.push(Plot.text([L], {x: "x", y: "y", text: "t", textAnchor: "start", lineAnchor: "middle", fontSize: 16, fill: L.c === "black" ? "#111" : COL[L.c]}));
    }
    const svg = Plot.plot({
      width: ML + PW + MR, height: MT + h + MB,
      marginLeft: ML, marginRight: MR, marginTop: MT, marginBottom: MB,
      x: {type: r.type, domain: r.xd},
      y: {domain: r.yd},
      style: {background: "transparent", overflow: "visible", fontFamily: FONT, fontSize: "14px", color: "#111", maxWidth: "none"},
      marks
    });
    svg.style.left = (colX0[col] - ML) + "px";
    svg.style.top = (rowTop[row] - MT) + "px";
    fig.appendChild(svg);
  }
}
</script></body></html>
